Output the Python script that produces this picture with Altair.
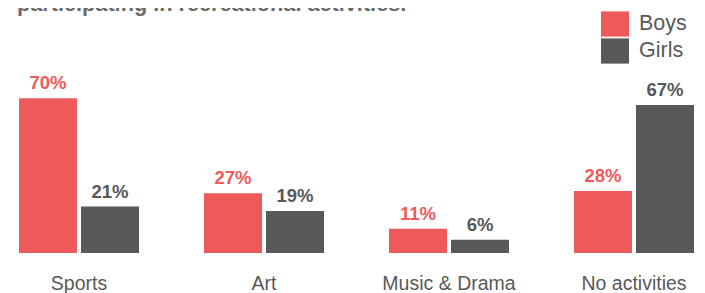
import altair as alt
import pandas as pd

categories = ["Sports", "Art", "Music & Drama", "No activities"]
boys = [70, 27, 11, 28]
girls = [21, 19, 6, 67]
genders = ["Boys", "Girls"]
colors = ["#EE5A5A", "#58585A"]
title_text = "participating in recreational activities."

rows = []
for c, b, g in zip(categories, boys, girls):
    rows.append({"category": c, "gender": "Boys", "value": b})
    rows.append({"category": c, "gender": "Girls", "value": g})
df = pd.DataFrame(rows)

FONT = "Liberation Sans, Arial, sans-serif"

x_enc = alt.X("category:N", sort=categories, title=None,
              scale=alt.Scale(paddingInner=0.3514, paddingOuter=0.0378, align=0.786),
              axis=alt.Axis(ticks=False, domain=False, labelAngle=0, labelFont=FONT,
                            labelFontSize=19.5, labelColor="#595959", labelPadding=21,
                            labelBaseline="top"))
xo_enc = alt.XOffset("gender:N", sort=genders,
                     scale=alt.Scale(paddingInner=0.0645, paddingOuter=0))
y_enc = alt.Y("value:Q", scale=alt.Scale(domain=[0, 100]), axis=None)
color_scale = alt.Scale(domain=genders, range=colors)

bars = alt.Chart(df).mark_bar().encode(
    x=x_enc, xOffset=xo_enc, y=y_enc,
    color=alt.Color("gender:N", scale=color_scale, title=None,
                    legend=alt.Legend(orient="none", legendX=593, legendY=-22,
                                      symbolType="M-1,-0.9H1V0.9H-1Z", symbolSize=784,
                                      symbolStrokeWidth=0, padding=0, rowPadding=0,
                                      labelFont=FONT, labelFontSize=21.5,
                                      labelColor="#595959", labelOffset=10))
)

labels = alt.Chart(df).mark_text(baseline="alphabetic", dy=-9, font=FONT,
                                 fontSize=18.5, fontWeight="bold").encode(
    x=x_enc, xOffset=xo_enc, y=y_enc,
    text=alt.Text("label:N"),
    color=alt.Color("gender:N", scale=color_scale, legend=None),
).transform_calculate(label="datum.value + '%'")

chart = alt.layer(bars, labels).properties(
    width=689, height=221,
    padding={"left": 0, "right": 0, "top": 24, "bottom": 40},
    autosize=alt.AutoSizeParams(type="none"),
    title=alt.TitleParams(title_text, anchor="start", font=FONT, fontSize=21.7,
                          fontWeight="bold", color="#6B6B6B", offset=0, dx=9, dy=23,
                          baseline="alphabetic"),
).configure_view(stroke=None)

chart.save("out.html", embed_options={"renderer": "svg", "actions": False})
